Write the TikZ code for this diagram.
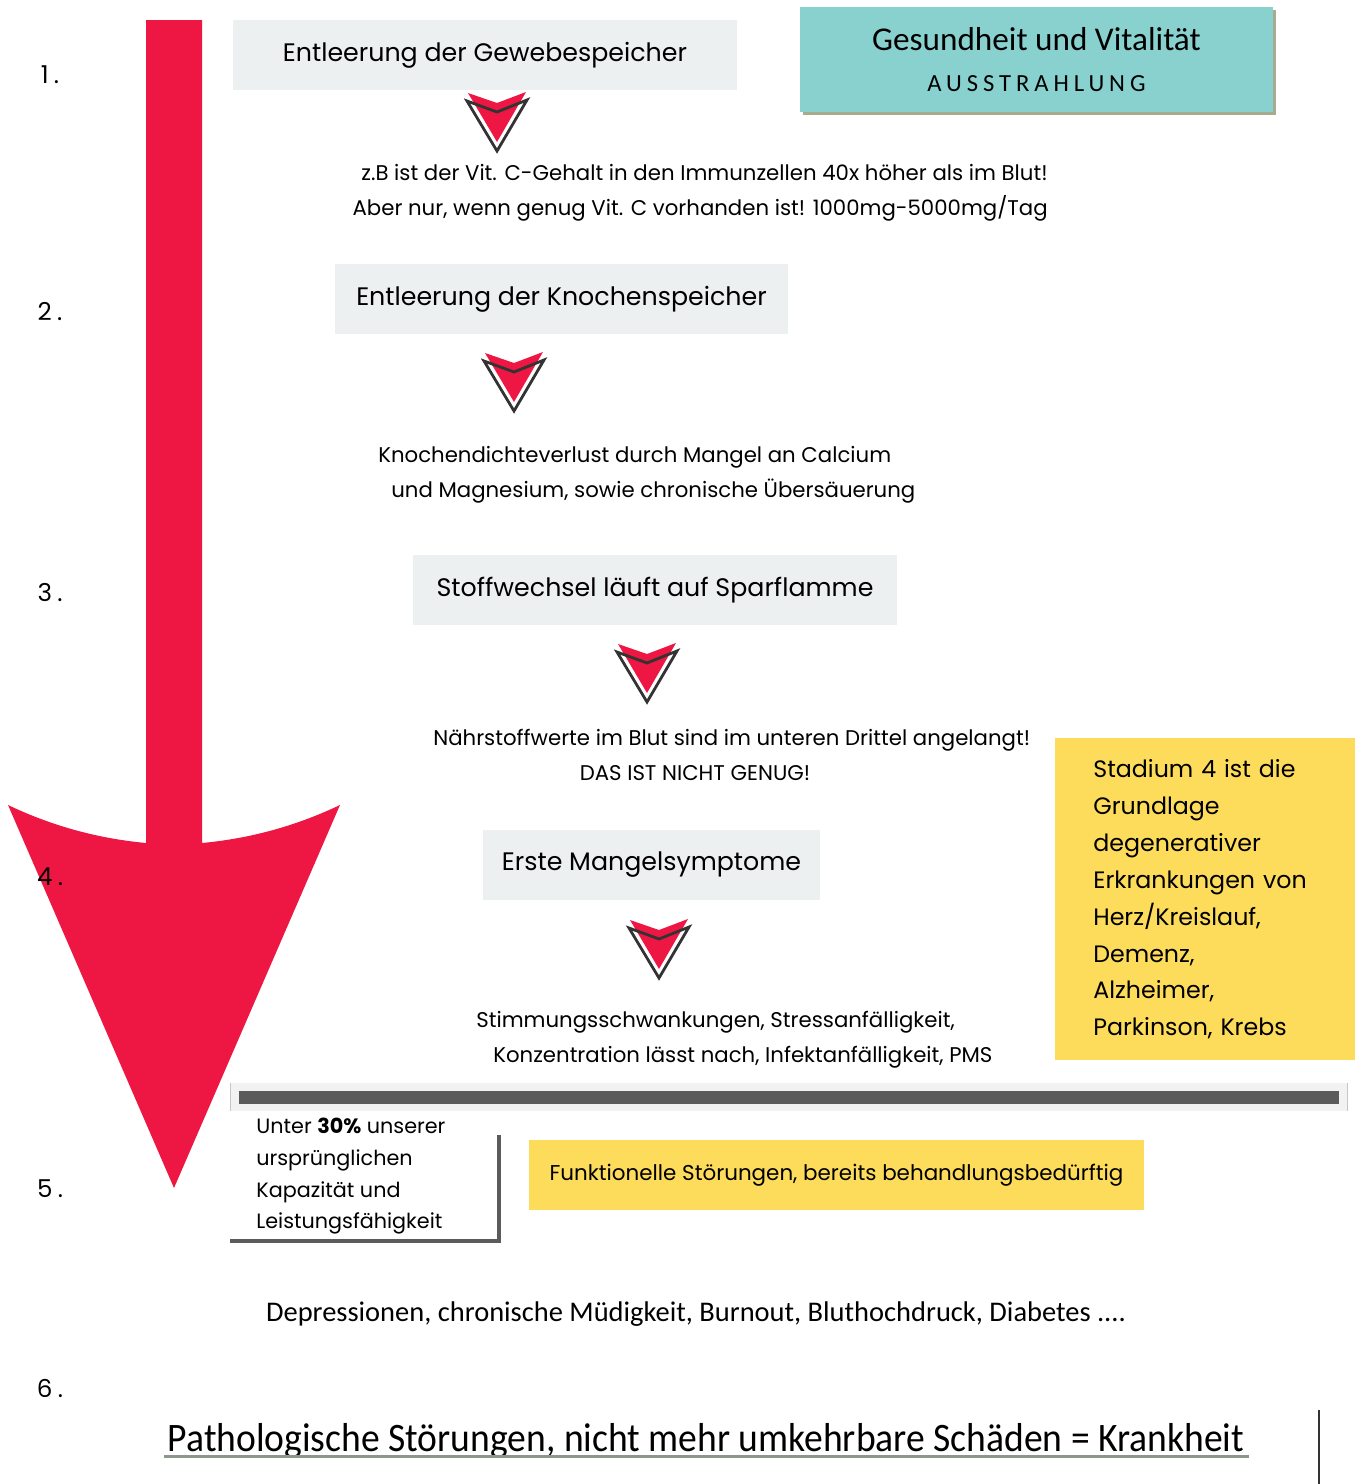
\documentclass[tikz,border=0pt]{standalone}
\usepackage{fontspec}
\setmainfont{Poppins}
\newfontfamily\calibrifont{Carlito}
\usetikzlibrary{positioning, shadows}
\definecolor{arrowred}{HTML}{EE1743}
\definecolor{boxgray}{HTML}{ECF0F0}
\definecolor{tealbox}{HTML}{88D1CF}
\definecolor{shadowolive}{HTML}{A7AC8E}
\definecolor{notegold}{HTML}{FDDC5C}
\definecolor{bardark}{HTML}{5B5B5B}
\definecolor{barlight}{HTML}{F2F2F2}
\definecolor{chevline}{HTML}{333333}
\definecolor{underlinegray}{HTML}{8A978A}

\begin{document}
\begin{tikzpicture}[x=0.02cm, y=-0.02cm,
  stagebox/.style={fill=boxgray, minimum height=1.4cm, inner sep=0pt, font=\fontsize{14.4}{17}\selectfont},
  notetext/.style={inner sep=0pt, font=\fontsize{12.1}{19.8}\selectfont},
  stepnum/.style={inner sep=0pt, font=\fontsize{14}{16}\selectfont},
  goldbox/.style={fill=notegold, inner sep=0pt}]
\useasboundingbox (0,0) rectangle (1363,1484);

\fill[arrowred] (146,20) -- (202,20) -- (202,843)
  .. controls (255,838) and (300,824) .. (340,805) -- (174,1188) -- (8,805)
  .. controls (48,824) and (93,838) .. (146,843) -- cycle;

\foreach \n/\y in {1/75, 2/312, 3/593, 4/877, 5/1189, 6/1388}
  \node[stepnum] (num\n) at (50,\y) {\n\hspace{3pt}.};

\node[stagebox, minimum width=10.08cm] (stage1) at (485,55) {Entleerung der Gewebespeicher};
\node[stagebox, minimum width=9.06cm] (stage2) at (561.5,299) {Entleerung der Knochenspeicher};
\node[stagebox, minimum width=9.68cm] (stage3) at (655,590) {Stoffwechsel läuft auf Sparflamme};
\node[stagebox, minimum width=6.74cm] (stage4) at (651.5,865) {Erste Mangelsymptome};

\foreach \cx/\cy in {497/93, 514/353, 647/644, 659/920} {
  \begin{scope}[shift={(\cx,\cy)}]
    \fill[arrowred] (-29,0) -- (0,10) -- (29,-1) -- (0,49) -- cycle;
    \draw[chevline, line width=1.6pt, line join=miter] (-30,8) -- (0,19) -- (30,7) -- (0,58) -- cycle;
  \end{scope}
}

\node[notetext, align=right, anchor=east] (note1) at (1048,193)
  {z.B ist der Vit. C-Gehalt in den Immunzellen 40x höher als im Blut!\\
   Aber nur, wenn genug Vit. C vorhanden ist! 1000mg-5000mg/Tag};
\node[notetext, align=left, anchor=west] (note2) at (378,475)
  {Knochendichteverlust durch Mangel an Calcium\\
   \hspace*{0.26cm}und Magnesium, sowie chronische Übersäuerung};
\node[notetext, anchor=west] (note3) at (433,740)
  {Nährstoffwerte im Blut sind im unteren Drittel angelangt!};
\node[notetext] (note3b) at (695,773) {DAS IST NICHT GENUG!};
\node[notetext, align=left, anchor=west] (note4) at (476,1040)
  {Stimmungsschwankungen, Stressanfälligkeit,\\
   \hspace*{0.34cm}Konzentration lässt nach, Infektanfälligkeit, PMS};

\node[fill=tealbox, minimum width=9.46cm, minimum height=2.1cm, inner sep=0pt, align=center,
  drop shadow={shadow xshift=0.06cm, shadow yshift=-0.06cm, fill=shadowolive, opacity=1}]
  (vital) at (1036.5,59.5)
  {\calibrifont\fontsize{18.9}{22}\selectfont Gesundheit und Vitalität\\[11pt]
   \calibrifont\fontsize{14}{17}\selectfont\addfontfeature{LetterSpace=20}AUSSTRAHLUNG};

\node[goldbox, anchor=north west, minimum width=6cm, minimum height=6.44cm,
  text width=4.48cm, inner xsep=0.76cm, align=left, font=\fontsize{13.5}{21}\selectfont]
  (stadium) at (1055,738)
  {Stadium 4 ist die\\ Grundlage\\ degenerativer\\ Erkrankungen von\\
   Herz/Kreislauf,\\ Demenz,\\ Alzheimer,\\ Parkinson, Krebs};

\node[fill=barlight, minimum width=22.32cm, minimum height=0.56cm, inner sep=0pt] (bar) at (789,1097) {};
\draw[gray!45, line width=0.6pt] (bar.north west) -- (bar.south west) (bar.north east) -- (bar.south east);
\node[fill=bardark, minimum width=22cm, minimum height=0.26cm, inner sep=0pt] (barin) at (bar.center) {};

\node[notetext, align=left, anchor=north west, font=\fontsize{11.8}{18}\selectfont] (capacity) at (256,1118)
  {Unter \textbf{30\%} unserer\\ ursprünglichen\\ Kapazität und\\ Leistungsfähigkeit};
\coordinate (bracktop) at (499,1135);
\coordinate (brackcorner) at (499,1241);
\coordinate (brackend) at (230,1241);
\draw[bardark, line width=2.2pt] (bracktop) -- (brackcorner) -- (brackend);

\node[goldbox, minimum width=12.3cm, minimum height=1.4cm, font=\fontsize{12.2}{14}\selectfont]
  (functional) at (836.5,1175) {Funktionelle Störungen, bereits behandlungsbedürftig};

\node[inner sep=0pt, font=\calibrifont\fontsize{16.2}{19}\selectfont] (depress) at (696,1314)
  {Depressionen, chronische Müdigkeit, Burnout, Bluthochdruck, Diabetes ....};

\node[inner sep=0pt, font=\calibrifont\fontsize{23}{26}\selectfont] (disease) at (706,1441)
  {\scalebox{0.93}[1]{Pathologische Störungen, nicht mehr umkehrbare Schäden = Krankheit}};
\draw[underlinegray, line width=1.7pt] (164,1456) -- (1249,1456);
\draw[chevline, line width=1.2pt] (1319,1410) -- (1319,1484);
\end{tikzpicture}
\end{document}
